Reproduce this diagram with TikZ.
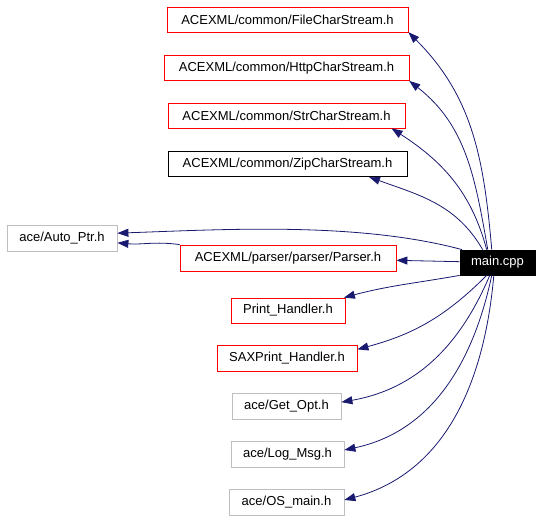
\documentclass[tikz,border=0pt]{standalone}
\usepackage{fontspec}
\setmainfont{Liberation Sans}
\usetikzlibrary{arrows.meta}
\definecolor{edgeblue}{HTML}{191970}
\definecolor{boxgray}{HTML}{BFBFBF}
\tikzset{
  box/.style={draw, line width=0.8pt, minimum height=25pt, inner sep=0pt, font=\fontsize{13}{15}\selectfont},
  redbox/.style={box, draw=red},
  graybox/.style={box, draw=boxgray},
  dep/.style={-{Triangle[length=11pt,width=8pt]}, draw=edgeblue, line width=0.8pt}
}
\begin{document}
\begin{tikzpicture}[x=1pt,y=1pt]
      \useasboundingbox (0,0) rectangle (541,520);
      \node [box, fill=black, text=white, minimum width=75pt] (1) at (497.5,257.5) {main.cpp};
      \node [redbox, minimum width=241pt] (2) at (287.5,500.5) {ACEXML/common/FileCharStream.h};
      \node [redbox, minimum width=245pt] (3) at (286.5,452) {ACEXML/common/HttpCharStream.h};
      \node [redbox, minimum width=237pt] (4) at (286.5,404.5) {ACEXML/common/StrCharStream.h};
      \node [box, minimum width=239pt] (5) at (287.5,356) {ACEXML/common/ZipCharStream.h};
      \node [graybox, minimum width=110pt, minimum height=26pt] (6) at (62,282) {ace/Auto\_Ptr.h};
      \node [redbox, minimum width=216pt, minimum height=26pt] (7) at (288,262) {ACEXML/parser/parser/Parser.h};
      \node [redbox, minimum width=114pt] (8) at (288,209.5) {Print\_Handler.h};
      \node [redbox, minimum width=140pt, minimum height=26pt] (9) at (287,162) {SAXPrint\_Handler.h};
      \node [graybox, minimum width=109pt, minimum height=26pt] (10) at (286.5,114) {ace/Get\_Opt.h};
      \node [graybox, minimum width=113pt, minimum height=26pt] (11) at (287.5,66) {ace/Log\_Msg.h};
      \node [graybox, minimum width=115pt, minimum height=26pt] (12) at (286.5,18) {ace/OS\_main.h};

      \draw[dep] (1.114) to[out=95,in=-45] (2.-6);
      \draw[dep] (1.127) to[out=100,in=-38] (3.-6);
      \draw[dep] (1.130) to[out=105,in=-33] (4.-7);
      \draw[dep] (1.139) to[out=120,in=-20] (5.-9);
      \draw[dep] (1.160) to[out=165,in=2,looseness=0.8] (6.5);
      \draw[dep] (7.north west) to[out=172,in=-5] (6.-5);
      \draw[dep] (1) -- (7);
      \draw[dep] (1.south west) to[out=190,in=15] (8.13);
      \draw[dep] (1.230) to[out=225,in=15] (9.7);
      \draw[dep] (1.239) to[out=247,in=10] (10.4);
      \draw[dep] (1.246) to[out=258,in=12] (11.4);
      \draw[dep] (1.254) to[out=265,in=15] (12.2);
    \end{tikzpicture}
\end{document}
